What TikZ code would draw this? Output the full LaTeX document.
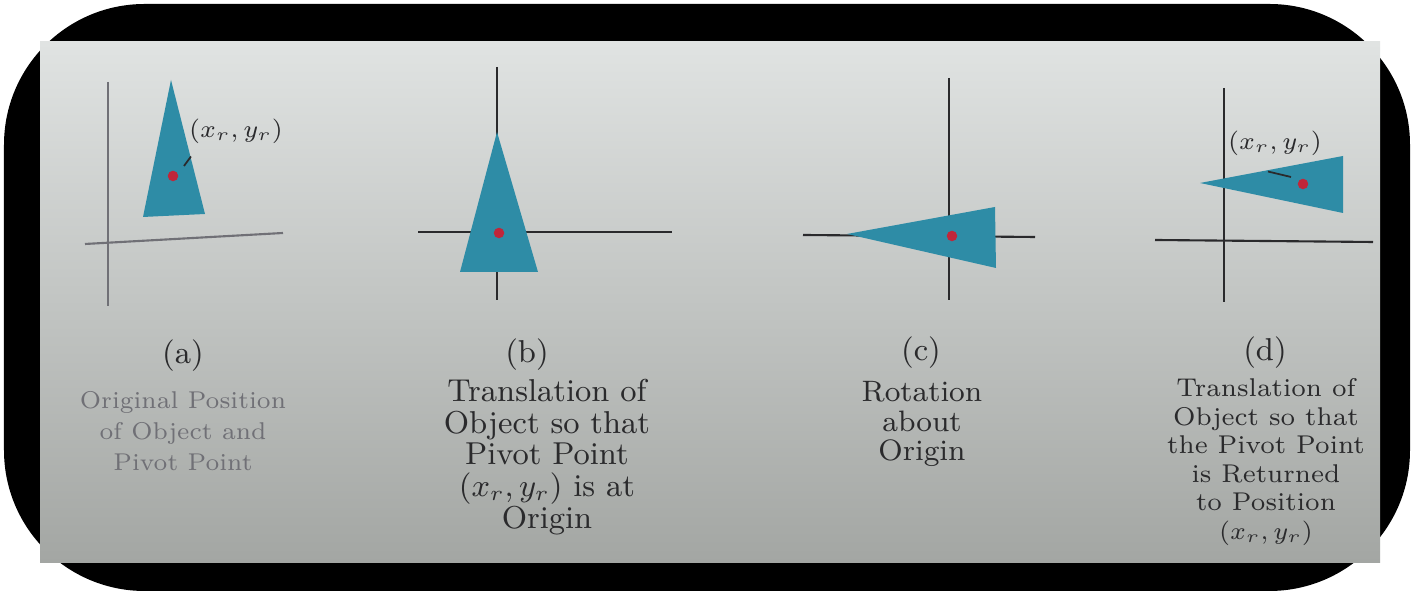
\documentclass[tikz,border=0pt]{standalone}
\usetikzlibrary{positioning}
\definecolor{paperlight}{RGB}{224,227,226}
\definecolor{paperdark}{RGB}{163,166,163}
\definecolor{objteal}{RGB}{46,140,166}
\definecolor{pivotred}{RGB}{192,38,58}
\definecolor{inkgray}{RGB}{42,42,44}
\definecolor{fadegray}{RGB}{112,112,118}

\begin{document}
\begin{tikzpicture}[
    x=0.01cm, y=-0.01cm,
    % Styles for the drawing
    axis/.style={draw=inkgray, line width=0.6pt},
    object/.style={fill=objteal, draw=none},
    pivot/.style={circle, fill=pivotred, inner sep=0pt, minimum size=3pt},
    leader/.style={draw=inkgray, line width=0.5pt},
    coordlabel/.style={font=\fontsize{7}{7}\selectfont, text=inkgray, inner sep=1pt},
    tag/.style={font=\fontsize{9}{9}\selectfont, text=inkgray},
    caption/.style={align=center, text=inkgray}
]
    \useasboundingbox (0,0) rectangle (1414,595);
    \fill[white] (0,0) rectangle (1414,595);
    \fill[black, rounded corners=40] (4,4) rectangle (1410,591);
    \shade[top color=paperlight, bottom color=paperdark] (40,42) rectangle (1380,563);

    % (a) original position
    \draw[axis, draw=fadegray] (108,82) -- (108,306);
    \draw[axis, draw=fadegray] (85,244) -- (283,233);
    \fill[object] (171,80) -- (143,217) -- (205,214) -- cycle;
    \node (pivA) [pivot] at (173,176) {};
    \node (labA) [coordlabel] at (236,131) {$(x_r, y_r)$};
    \coordinate (tipA) at (184,166);
    \draw[leader] (labA.south west) ++(6,9) -- (tipA);

    % (b) pivot moved to origin
    \draw[axis] (497,67) -- (497,300);
    \draw[axis] (418,232) -- (672,232);
    \fill[object] (497,132) -- (460,272) -- (538,272) -- cycle;
    \node (pivB) [pivot] at (499,233) {};

    % (c) rotation about origin
    \draw[axis] (949,78) -- (949,300);
    \draw[axis] (803,235) -- (1035,237);
    \fill[object] (847,234) -- (995,207) -- (996,268) -- cycle;
    \node (pivC) [pivot] at (952,236) {};

    % (d) pivot returned
    \draw[axis] (1224,88) -- (1224,302);
    \draw[axis] (1155,240) -- (1373,242);
    \fill[object] (1200,183) -- (1343,156) -- (1343,213) -- cycle;
    \node (pivD) [pivot] at (1303,184) {};
    \node (labD) [coordlabel] at (1275,143) {$(x_r, y_r)$};
    \coordinate (tipD) at (1291,177);
    \draw[leader] (labD.south) ++(-7,12) -- (tipD);

    % Tags and captions
    \node (tagA) [tag] at (183,356) {(a)};
    \node (capA) [caption, text=fadegray, font=\fontsize{6.9}{8.8}\selectfont] at (183,431)
        {Original Position\\of Object and\\Pivot Point};

    \node (tagB) [tag] at (527,355) {(b)};
    \node (capB) [caption, font=\fontsize{9}{9}\selectfont] at (547,457)
        {Translation of\\Object so that\\Pivot Point\\$(x_r, y_r)$ is at\\Origin};

    \node (tagC) [tag] at (921,353) {(c)};
    \node (capC) [caption, font=\fontsize{8.4}{8.5}\selectfont] at (922,424)
        {Rotation\\about\\Origin};

    \node (tagD) [tag] at (1265,353) {(d)};
    \node (capD) [caption, font=\fontsize{7.3}{8.1}\selectfont] at (1266,462)
        {Translation of\\Object so that\\the Pivot Point\\is Returned\\to Position\\$(x_r, y_r)$};

\end{tikzpicture}
\end{document}
